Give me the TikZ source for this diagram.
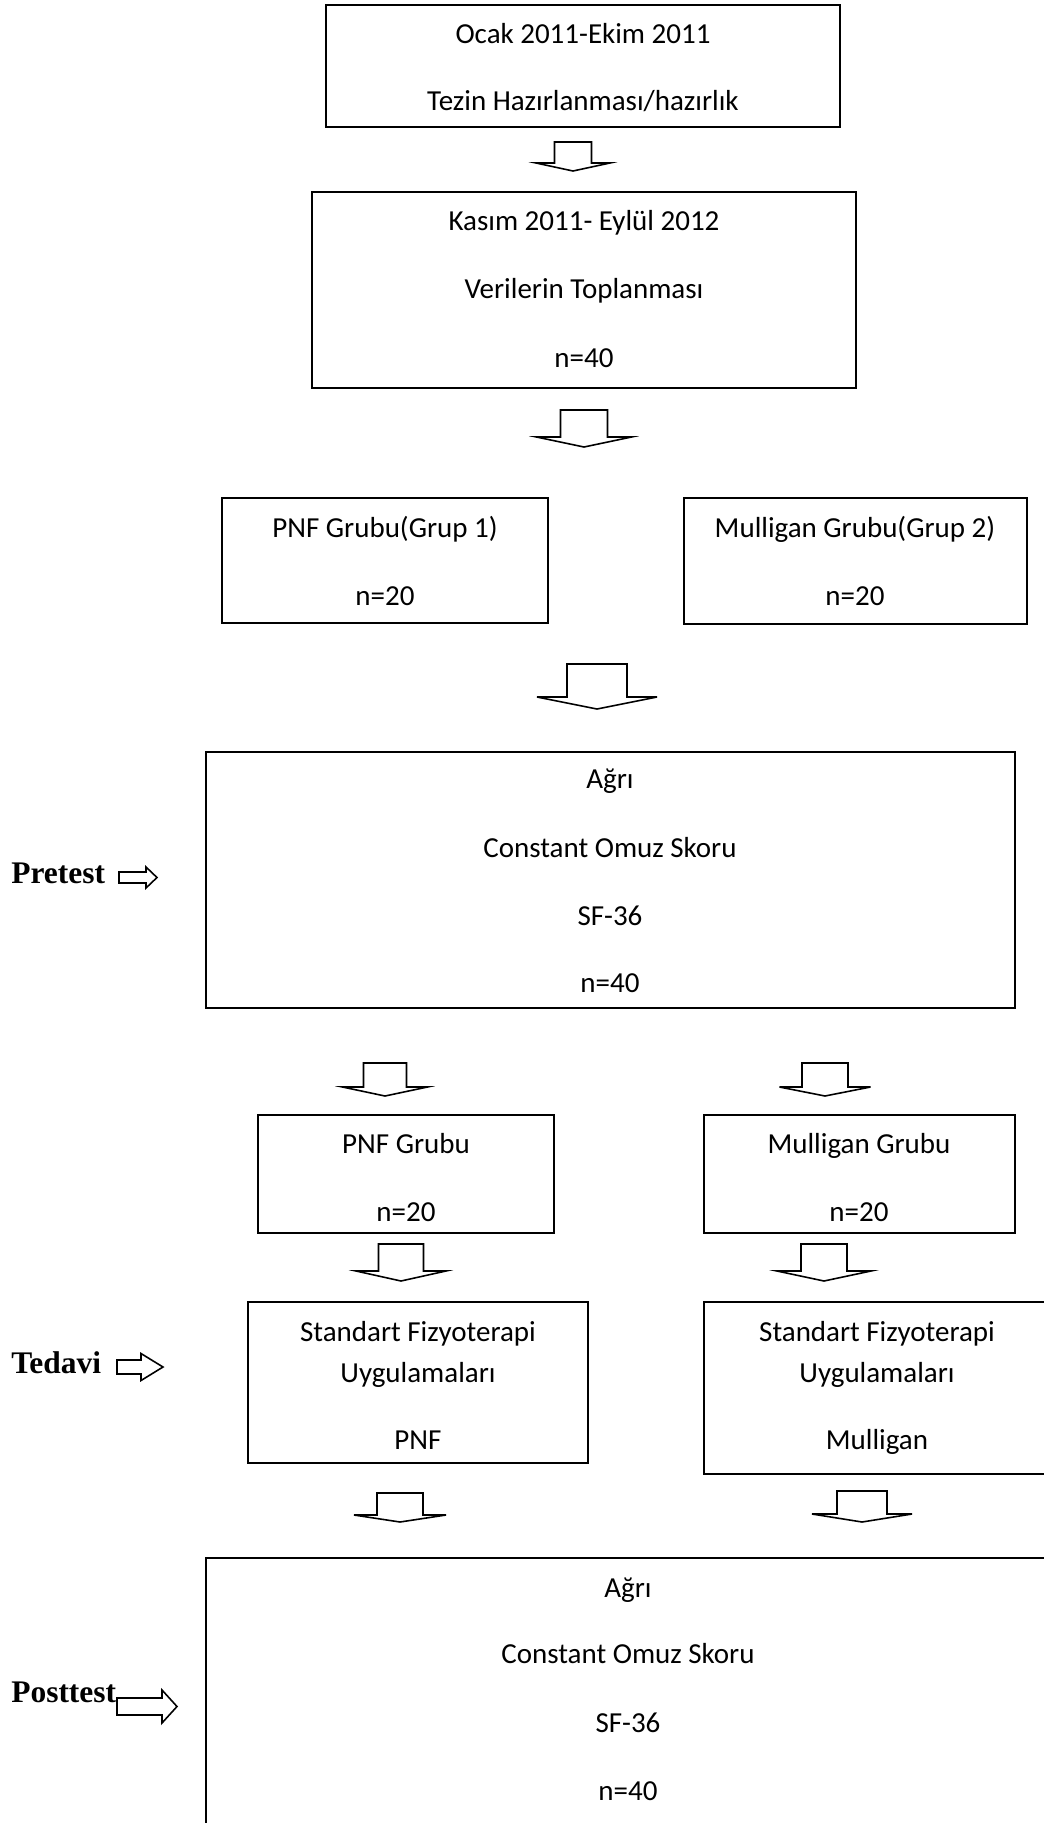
\documentclass[tikz,border=0pt]{standalone}
\usepackage{fontspec}
\setmainfont{Carlito}
\newfontfamily\stagefont{Liberation Serif}
\usepackage{tikz}

% down block arrow: centre x, top, shaft half width, shaft bottom, head half width, tip
\newcommand{\downblock}[6]{%
  \draw[blockline] (#1-#3,#2) -- (#1+#3,#2) -- (#1+#3,#4) -- (#1+#5,#4)
    -- (#1,#6) -- (#1-#5,#4) -- (#1-#3,#4) -- cycle;}
% right block arrow: left x, head start x, tip x, centre y, shaft half height, head half height
\newcommand{\rightblock}[6]{%
  \draw[blockline] (#1,#4-#5) -- (#2,#4-#5) -- (#2,#4-#6) -- (#3,#4)
    -- (#2,#4+#6) -- (#2,#4+#5) -- (#1,#4+#5) -- cycle;}

\tikzset{
  boxline/.style={line width=1.1pt},
  blockline/.style={line width=0.9pt, line join=miter},
  txt/.style={anchor=base, inner sep=0pt, font=\fontsize{16.5pt}{20pt}\selectfont},
  stage/.style={anchor=base west, inner sep=0pt, font=\stagefont\bfseries\fontsize{17.9pt}{21pt}\selectfont}
}

\begin{document}
\begin{tikzpicture}[x=0.02cm, y=-0.02cm]
                \useasboundingbox (0,0) rectangle (1044,1823);

                % Tez hazirligi
                \draw[boxline] (326,5) rectangle (840,127);
                \node[txt] (ocak) at (583,43) {Ocak 2011-Ekim 2011};
                \node[txt] (tezin) at (583,110) {Tezin Hazırlanması/hazırlık};
                \downblock{573}{142}{18.5}{163}{37}{171}

                % Veri toplama
                \draw[boxline] (312,192) rectangle (856,388);
                \node[txt] (kasim) at (584,230) {Kasım 2011- Eylül 2012};
                \node[txt] (veri) at (584,298) {Verilerin Toplanması};
                \node[txt] (nkirk) at (584,367) {n=40};
                \downblock{584}{410}{23.5}{437}{47.5}{447}

                % Gruplar
                \draw[boxline] (222,498) rectangle (548,623);
                \node[txt] (pnfgrup) at (385,537) {PNF Grubu(Grup 1)};
                \node[txt] (pnfn) at (385,605) {n=20};
                \draw[boxline] (684,498) rectangle (1027,624);
                \node[txt] (mulgrup) at (855,537) {Mulligan Grubu(Grup 2)};
                \node[txt] (muln) at (855,605) {n=20};
                \downblock{597}{664}{30}{697}{60}{709}

                % Pretest
                \node[stage] (pretest) at (11,883) {Pretest};
                \rightblock{119}{146}{157}{877.5}{5.5}{10.5}
                \draw[boxline] (206,752) rectangle (1015,1008);
                \node[txt] (preagri) at (610,788) {Ağrı};
                \node[txt] (preconst) at (610,857) {Constant Omuz Skoru};
                \node[txt] (presf) at (610,925) {SF-36};
                \node[txt] (pren) at (610,992) {n=40};
                \downblock{385}{1063}{21.5}{1087}{42.5}{1096}
                \downblock{825}{1063}{23}{1087}{45.5}{1096}

                \draw[boxline] (258,1115) rectangle (554,1233);
                \node[txt] (pnf) at (406,1153) {PNF Grubu};
                \node[txt] (pnfnb) at (406,1221) {n=20};
                \draw[boxline] (704,1115) rectangle (1015,1233);
                \node[txt] (mul) at (859,1153) {Mulligan Grubu};
                \node[txt] (mulnb) at (859,1221) {n=20};
                \downblock{401}{1244}{22.5}{1271}{45}{1281}
                \downblock{824}{1244}{23}{1271}{47}{1281}

                % Tedavi
                \node[stage] (tedavi) at (11,1373) {Tedavi};
                \rightblock{117}{141}{163}{1367}{7}{13.5}
                \draw[boxline] (248,1302) rectangle (588,1463);
                \node[txt] (stda) at (418,1341) {Standart Fizyoterapi};
                \node[txt] (uyga) at (418,1382) {Uygulamaları};
                \node[txt] (tpnf) at (418,1449) {PNF};
                \draw[boxline] (704,1302) rectangle (1050,1474);
                \node[txt] (stdb) at (877,1341) {Standart Fizyoterapi};
                \node[txt] (uygb) at (877,1382) {Uygulamaları};
                \node[txt] (tmul) at (877,1449) {Mulligan};
                \downblock{400}{1493}{23}{1515}{46}{1522}
                \downblock{862}{1491}{25}{1514}{50}{1522}

                % Posttest
                \node[stage] (posttest) at (11,1702) {Posttest};
                \rightblock{117}{162}{177}{1706.5}{8.5}{16.5}
                \draw[boxline] (206,1558) rectangle (1050,1830);
                \node[txt] (postagri) at (628,1597) {Ağrı};
                \node[txt] (postconst) at (628,1663) {Constant Omuz Skoru};
                \node[txt] (postsf) at (628,1732) {SF-36};
                \node[txt] (postn) at (628,1800) {n=40};
\end{tikzpicture}
\end{document}
